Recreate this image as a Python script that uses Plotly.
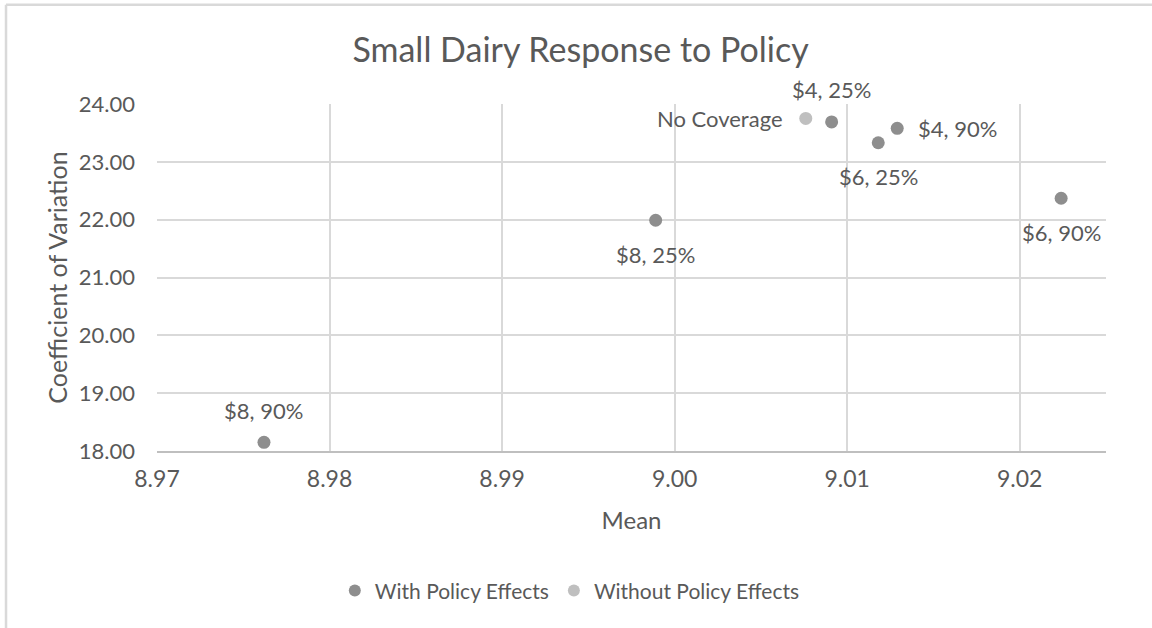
import plotly.graph_objects as go

# Scenario results: mean vs coefficient of variation
with_mean = [9.0091, 9.0129, 9.0118, 9.0224, 8.9989, 8.9762]
with_cv = [23.69, 23.58, 23.33, 22.37, 21.99, 18.15]
with_labels = ["$4, 25%", "$4, 90%", "$6, 25%", "$6, 90%", "$8, 25%", "$8, 90%"]
with_label_side = ["top", "right", "bottom", "bottom", "bottom", "top"]

without_mean = [9.0076]
without_cv = [23.75]
without_labels = ["No Coverage"]
without_label_side = ["left"]

x_ticks = [8.97, 8.98, 8.99, 9.00, 9.01, 9.02]
y_ticks = [18, 19, 20, 21, 22, 23, 24]

FONT = "Lato, Carlito, Calibri, sans-serif"
TEXT = "#595959"
WITH_COLOR = "#8e8e8e"
WITHOUT_COLOR = "#bfbfbf"
GRID = "#d9d9d9"

fig = go.Figure()
fig.add_trace(go.Scatter(
    x=with_mean, y=with_cv, mode="markers", name="With Policy Effects",
    marker=dict(size=13, color=WITH_COLOR),
))
fig.add_trace(go.Scatter(
    x=without_mean, y=without_cv, mode="markers", name="Without Policy Effects",
    marker=dict(size=13, color=WITHOUT_COLOR),
))

# Data labels placed beside each point
offsets = {
    "top": dict(xanchor="center", yanchor="middle", xshift=0, yshift=32),
    "bottom": dict(xanchor="center", yanchor="middle", xshift=0, yshift=-34),
    "right": dict(xanchor="left", yanchor="middle", xshift=19, yshift=0),
    "left": dict(xanchor="right", yanchor="middle", xshift=-21, yshift=0),
}
for xs, ys, labels, sides in [
    (with_mean, with_cv, with_labels, with_label_side),
    (without_mean, without_cv, without_labels, without_label_side),
]:
    for x, y, t, s in zip(xs, ys, labels, sides):
        fig.add_annotation(x=x, y=y, text=t, showarrow=False,
                           font=dict(family=FONT, size=22, color=TEXT),
                           **offsets[s])

# Chart area border (left and top edges)
fig.add_shape(type="line", xref="paper", yref="paper",
              x0=-0.1591, x1=-0.1591, y0=-1.0, y1=1.286,
              line=dict(color=GRID, width=2.5))
fig.add_shape(type="line", xref="paper", yref="paper",
              x0=-0.1591, x1=1.2, y0=1.286, y1=1.286,
              line=dict(color=GRID, width=2.5))

fig.update_layout(
    width=1152, height=628,
    margin=dict(l=157, r=46, t=104, b=177),
    paper_bgcolor="white", plot_bgcolor="white",
    font=dict(family=FONT, color=TEXT),
    title=dict(text="Small Dairy Response to Policy",
               x=0.504, xref="container", xanchor="center",
               y=1 - 50 / 628, yref="container", yanchor="middle",
               font=dict(family=FONT, size=34, color=TEXT)),
    showlegend=True,
    legend=dict(orientation="h", x=0.435, xanchor="center",
                y=-0.403, yanchor="middle",
                font=dict(family=FONT, size=21, color=TEXT),
                itemsizing="constant", traceorder="normal"),
)

fig.update_xaxes(
    range=[8.97, 9.025], tickvals=x_ticks, tickformat=".2f",
    showgrid=True, gridcolor=GRID, gridwidth=2,
    zeroline=False, showline=True, linecolor="#bfbfbf", linewidth=2,
    ticks="", ticklabelstandoff=6,
    tickfont=dict(family=FONT, size=23, color=TEXT),
    title=dict(text="Mean", standoff=22,
               font=dict(family=FONT, size=24, color=TEXT)),
)
fig.update_yaxes(
    range=[18, 24], tickvals=y_ticks, tickformat=".2f",
    showgrid=True, gridcolor=GRID, gridwidth=2,
    zeroline=False, showline=False,
    ticks="", ticklabelstandoff=21,
    tickfont=dict(family=FONT, size=22, color=TEXT),
    title=dict(text="Coefficient of Variation", standoff=4,
               font=dict(family=FONT, size=25, color=TEXT)),
)

fig.write_html("out.html")
